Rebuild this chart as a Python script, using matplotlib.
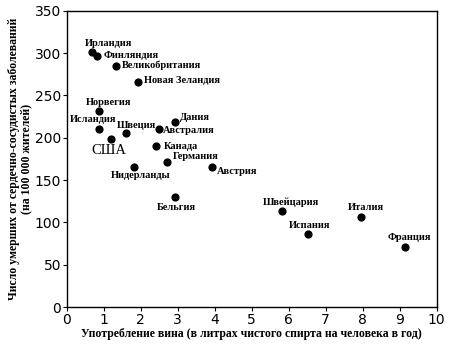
import matplotlib
matplotlib.use("Agg")
import matplotlib.pyplot as plt

# data
countries = ["Ирландия", "Финляндия", "Великобритания", "Новая Зеландия",
             "Норвегия", "Исландия", "США", "Швеция", "Дания", "Австралия",
             "Канада", "Германия", "Нидерланды", "Австрия", "Бельгия",
             "Швейцария", "Испания", "Италия", "Франция"]
wine = [0.70, 0.83, 1.33, 1.94, 0.88, 0.88, 1.19, 1.60, 2.93, 2.50,
        2.43, 2.72, 1.83, 3.94, 2.93, 5.82, 6.52, 7.96, 9.14]
deaths = [301, 297, 285, 266, 232, 210, 199, 206, 219, 210,
          190, 171, 166, 166, 130, 114, 86, 106, 71]

# label placement (pixel offsets, alignment)
label_pos = {
    "Ирландия": (-8, 9, "left"),
    "Финляндия": (6, 0, "left"),
    "Великобритания": (6, 1, "left"),
    "Новая Зеландия": (6, 1, "left"),
    "Норвегия": (9, 8, "center"),
    "Исландия": (-6, 10, "center"),
    "США": (-2, -12, "center"),
    "Швеция": (11, 7, "center"),
    "Дания": (5, 4, "left"),
    "Австралия": (4, -1, "left"),
    "Канада": (7, 0, "left"),
    "Германия": (6, 6, "left"),
    "Нидерланды": (6, -9, "center"),
    "Австрия": (5, -5, "left"),
    "Бельгия": (1, -10, "center"),
    "Швейцария": (9, 8, "center"),
    "Испания": (2, 9, "center"),
    "Италия": (5, 10, "center"),
    "Франция": (5, 10, "center"),
}

serif = "Liberation Serif"
narrow = ["Liberation Sans Narrow", "DejaVu Sans"]

fig = plt.figure(figsize=(4.5, 3.49), dpi=100)
ax = fig.add_axes([0.148, 0.120, 0.822, 0.849])

ax.scatter(wine, deaths, s=24, color="black", zorder=3)

for name, x, y in zip(countries, wine, deaths):
    dx, dy, ha = label_pos[name]
    size = 10.5 if name == "США" else 7.5
    ax.annotate(name, (x, y), xytext=(dx, dy), textcoords="offset pixels",
                ha=ha, va="center", fontsize=size, family=serif,
                weight="normal" if name == "США" else "bold")

ax.set_xlim(0, 10)
ax.set_ylim(0, 350)
ax.set_xticks(range(0, 11))
ax.set_yticks(range(0, 351, 50))
ax.tick_params(direction="out", length=3, width=0.8, labelsize=10, pad=1)
for lab in ax.get_xticklabels() + ax.get_yticklabels():
    lab.set_family(narrow)
for sp in ax.spines.values():
    sp.set_linewidth(1.0)

ax.set_xlabel("Употребление вина (в литрах чистого спирта на человека в год)",
              fontsize=8.5, family=serif, weight="bold", labelpad=1)
ax.set_ylabel("Число умерших от сердечно-сосудистых заболеваний\n(на 100 000 жителей)",
              fontsize=8.5, family=serif, weight="bold", labelpad=2, linespacing=1.0)

fig.savefig("out.png", dpi=100)
